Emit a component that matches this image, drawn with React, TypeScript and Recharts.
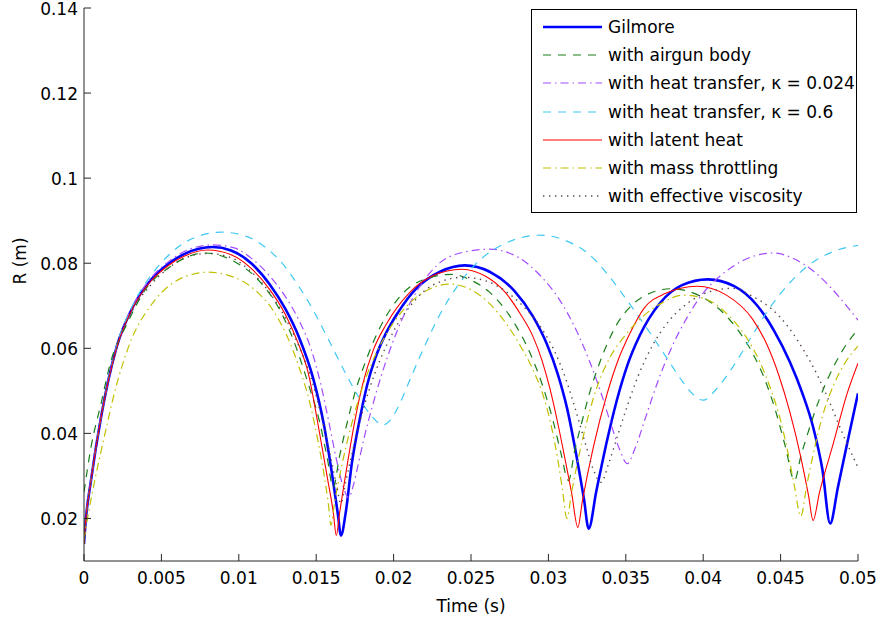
import React from "react";
import { LineChart, Line, XAxis, YAxis } from "recharts";

// [time (s), R (m)]
const gilmore: [number, number][] = [
  [0, 0.014], [0.0001, 0.019], [0.00045, 0.0289], [0.0011, 0.0438], [0.0021, 0.0602],
  [0.0032, 0.07], [0.0043, 0.076], [0.0055, 0.08], [0.0065, 0.0822], [0.0083, 0.0838],
  [0.0095, 0.083], [0.0108, 0.08], [0.012, 0.075], [0.013, 0.0693], [0.0139, 0.0625],
  [0.0148, 0.053], [0.0155, 0.042], [0.016, 0.031], [0.0164, 0.021], [0.0166, 0.016],
  [0.0169, 0.0212], [0.0173, 0.0329], [0.0178, 0.0431], [0.0183, 0.0515], [0.0188, 0.0575],
  [0.0195, 0.0635], [0.0203, 0.0685], [0.0215, 0.0742], [0.023, 0.078], [0.0246, 0.0795],
  [0.0262, 0.078], [0.0278, 0.0735], [0.029, 0.0675], [0.0299, 0.061], [0.0306, 0.054],
  [0.0312, 0.046], [0.0318, 0.035], [0.0323, 0.0245], [0.0326, 0.0176], [0.0331, 0.0265],
  [0.0338, 0.0385], [0.0344, 0.0475], [0.0351, 0.056], [0.0359, 0.063], [0.0372, 0.0706],
  [0.0386, 0.0748], [0.0403, 0.0762], [0.042, 0.0746], [0.0435, 0.07], [0.0446, 0.064],
  [0.0456, 0.0568], [0.0464, 0.0495], [0.0471, 0.0415], [0.0477, 0.0315], [0.0482, 0.0188],
  [0.0487, 0.0273], [0.0493, 0.0376], [0.05, 0.0494],
];

const airgunBody: [number, number][] = [
  [0, 0.0262], [0.00045, 0.0367], [0.0011, 0.047], [0.0017, 0.0565], [0.0028, 0.0659],
  [0.004, 0.074], [0.0055, 0.079], [0.0078, 0.0824], [0.0095, 0.0808], [0.0114, 0.0755],
  [0.0125, 0.07], [0.0135, 0.0622], [0.0145, 0.0515], [0.0152, 0.043], [0.0157, 0.0345],
  [0.0161, 0.0273], [0.0165, 0.0345], [0.017, 0.0425], [0.0175, 0.0495], [0.0182, 0.057],
  [0.019, 0.064], [0.0198, 0.0692], [0.0207, 0.0733], [0.022, 0.0762], [0.0238, 0.0774],
  [0.025, 0.076], [0.0262, 0.0732], [0.0277, 0.0665], [0.0288, 0.059], [0.0296, 0.0515],
  [0.0303, 0.043], [0.0308, 0.0355], [0.0313, 0.0289], [0.0317, 0.036], [0.0322, 0.0432],
  [0.0327, 0.05], [0.0333, 0.0565], [0.0344, 0.0655], [0.0355, 0.0705], [0.0366, 0.073],
  [0.0379, 0.074], [0.0395, 0.0728], [0.0411, 0.069], [0.0422, 0.0645], [0.0432, 0.0588],
  [0.044, 0.0525], [0.0447, 0.045], [0.0453, 0.037], [0.0459, 0.0289], [0.0463, 0.0345],
  [0.0468, 0.0405], [0.0475, 0.048], [0.0482, 0.054], [0.049, 0.0595], [0.05, 0.0645],
];

const heatTransferLow: [number, number][] = [
  [0, 0.014], [0.0001, 0.019], [0.00045, 0.029], [0.0011, 0.0438], [0.0021, 0.0602],
  [0.0032, 0.0702], [0.0043, 0.0764], [0.0055, 0.0805], [0.0065, 0.0828], [0.0083, 0.0843],
  [0.0097, 0.0836], [0.0108, 0.0812], [0.012, 0.077], [0.013, 0.0722], [0.0139, 0.0665],
  [0.0147, 0.0595], [0.0153, 0.0515], [0.0158, 0.043], [0.0163, 0.034], [0.0167, 0.028],
  [0.0171, 0.0249], [0.0174, 0.0278], [0.0177, 0.0325], [0.0181, 0.039], [0.0186, 0.046],
  [0.0192, 0.0535], [0.0199, 0.061], [0.0207, 0.068], [0.0216, 0.074], [0.0228, 0.0795],
  [0.0243, 0.0824], [0.0262, 0.0833], [0.028, 0.0815], [0.0295, 0.077], [0.0307, 0.0715],
  [0.0317, 0.065], [0.0326, 0.0575], [0.0334, 0.0495], [0.0341, 0.0415], [0.0346, 0.0362],
  [0.0351, 0.0329], [0.0356, 0.0365], [0.0363, 0.044], [0.0371, 0.0525], [0.038, 0.0605],
  [0.039, 0.0675], [0.04, 0.073], [0.0411, 0.077], [0.0425, 0.0805], [0.0445, 0.0824],
  [0.046, 0.0808], [0.0473, 0.0776], [0.0488, 0.072], [0.05, 0.0666],
];

const heatTransferHigh: [number, number][] = [
  [0, 0.014], [0.0001, 0.019], [0.00045, 0.029], [0.0011, 0.0438], [0.0021, 0.0604],
  [0.0032, 0.0705], [0.0043, 0.077], [0.0055, 0.082], [0.007, 0.0858], [0.0089, 0.0873],
  [0.0105, 0.0863], [0.0118, 0.0835], [0.0128, 0.08], [0.0138, 0.075], [0.0148, 0.069],
  [0.0158, 0.062], [0.0168, 0.0548], [0.0178, 0.0482], [0.0186, 0.044], [0.0193, 0.042],
  [0.0198, 0.0432], [0.0204, 0.047], [0.0211, 0.053], [0.022, 0.0605], [0.023, 0.068],
  [0.0242, 0.075], [0.0255, 0.0805], [0.027, 0.0843], [0.0295, 0.0866], [0.0312, 0.0852],
  [0.0325, 0.0825], [0.0338, 0.0775], [0.0351, 0.0712], [0.0364, 0.0645], [0.0376, 0.058],
  [0.0386, 0.0525], [0.0394, 0.049], [0.04, 0.0478], [0.0408, 0.0502], [0.0418, 0.055],
  [0.043, 0.062], [0.0442, 0.069], [0.0455, 0.075], [0.0468, 0.0795], [0.0483, 0.0826],
  [0.05, 0.0842],
];

const latentHeat: [number, number][] = [
  [0, 0.014], [0.0001, 0.019], [0.00045, 0.0289], [0.0011, 0.0438], [0.0021, 0.06],
  [0.0032, 0.0698], [0.0043, 0.0757], [0.0055, 0.0796], [0.0065, 0.0817], [0.008, 0.0831],
  [0.0095, 0.082], [0.0108, 0.0788], [0.012, 0.0738], [0.013, 0.068], [0.0138, 0.0615],
  [0.0145, 0.054], [0.0151, 0.0425], [0.0157, 0.03], [0.0161, 0.0215], [0.0163, 0.016],
  [0.0165, 0.021], [0.017, 0.0325], [0.0175, 0.043], [0.018, 0.0515], [0.0187, 0.0597],
  [0.0195, 0.0655], [0.021, 0.073], [0.0225, 0.077], [0.0244, 0.0786], [0.026, 0.0768],
  [0.0272, 0.0732], [0.0282, 0.068], [0.029, 0.0628], [0.0296, 0.057], [0.0301, 0.0505],
  [0.0306, 0.0425], [0.0311, 0.0335], [0.0315, 0.026], [0.0319, 0.0179], [0.0322, 0.0242],
  [0.0329, 0.0367], [0.0338, 0.0494], [0.0345, 0.0572], [0.0352, 0.063], [0.0362, 0.0695],
  [0.0375, 0.0728], [0.0396, 0.0746], [0.0415, 0.0725], [0.0432, 0.0668], [0.0441, 0.061],
  [0.0449, 0.0535], [0.0456, 0.045], [0.0463, 0.0345], [0.0468, 0.0255], [0.0471, 0.0195],
  [0.0475, 0.0259], [0.0484, 0.0376], [0.0493, 0.0494], [0.05, 0.0565],
];

const massThrottling: [number, number][] = [
  [0, 0.015], [0.0003, 0.0215], [0.0007, 0.029], [0.0013, 0.039], [0.002, 0.05],
  [0.003, 0.0615], [0.0043, 0.07], [0.0056, 0.075], [0.0068, 0.0772], [0.008, 0.0779],
  [0.0097, 0.0767], [0.0112, 0.0732], [0.0122, 0.069], [0.0131, 0.063], [0.0139, 0.0555],
  [0.0146, 0.047], [0.0151, 0.0385], [0.0155, 0.0305], [0.0158, 0.023], [0.01595, 0.0184],
  [0.0162, 0.024], [0.0166, 0.0315], [0.017, 0.038], [0.0175, 0.045], [0.0181, 0.052],
  [0.0189, 0.059], [0.0199, 0.0655], [0.021, 0.0705], [0.0222, 0.0737], [0.0236, 0.0751],
  [0.025, 0.0738], [0.0262, 0.0705], [0.0272, 0.0662], [0.0282, 0.0605], [0.029, 0.055],
  [0.0297, 0.0485], [0.0302, 0.0415], [0.0306, 0.034], [0.0309, 0.027], [0.0312, 0.02],
  [0.0315, 0.0262], [0.0319, 0.0335], [0.0325, 0.043], [0.0332, 0.0515], [0.034, 0.058],
  [0.035, 0.0632], [0.0362, 0.0678], [0.0374, 0.0708], [0.0387, 0.0725], [0.04, 0.0718],
  [0.0415, 0.0682], [0.0428, 0.0625], [0.0437, 0.0565], [0.0444, 0.05], [0.045, 0.043],
  [0.0455, 0.035], [0.0459, 0.0275], [0.0463, 0.0205], [0.0467, 0.028], [0.0471, 0.035],
  [0.0477, 0.044], [0.0485, 0.052], [0.0492, 0.0568], [0.05, 0.0605],
];

const effectiveViscosity: [number, number][] = [
  [0, 0.014], [0.0001, 0.019], [0.00045, 0.0289], [0.0011, 0.0438], [0.0021, 0.06],
  [0.0032, 0.0694], [0.0043, 0.0748], [0.0055, 0.079], [0.0065, 0.0812], [0.008, 0.0823],
  [0.0095, 0.0813], [0.0108, 0.078], [0.012, 0.073], [0.0131, 0.0665], [0.014, 0.0595],
  [0.0148, 0.0515], [0.0154, 0.043], [0.0159, 0.035], [0.0163, 0.028], [0.0166, 0.0235],
  [0.0169, 0.0285], [0.0173, 0.035], [0.0178, 0.0425], [0.0184, 0.05], [0.0191, 0.057],
  [0.02, 0.064], [0.0212, 0.0705], [0.0226, 0.075], [0.0245, 0.0767], [0.026, 0.0758],
  [0.0272, 0.0735], [0.0284, 0.0698], [0.0295, 0.065], [0.0305, 0.0585], [0.0312, 0.052],
  [0.0318, 0.045], [0.0324, 0.0375], [0.0329, 0.0315], [0.0334, 0.0285], [0.0339, 0.033],
  [0.0345, 0.0398], [0.0351, 0.0465], [0.0358, 0.0535], [0.0367, 0.0605], [0.0378, 0.0665],
  [0.039, 0.0706], [0.0404, 0.0733], [0.0419, 0.0741], [0.0432, 0.0722], [0.0445, 0.069],
  [0.0456, 0.0645], [0.0465, 0.0595], [0.0474, 0.0535], [0.0482, 0.047], [0.049, 0.04],
  [0.05, 0.032],
];

const xTicks = [0, 0.005, 0.01, 0.015, 0.02, 0.025, 0.03, 0.035, 0.04, 0.045, 0.05];
const yTicks = [0.02, 0.04, 0.06, 0.08, 0.1, 0.12, 0.14];

const FONT = "'DejaVu Sans', sans-serif";
const AXIS = "#262626";

const SERIES = [
  { name: "Gilmore", data: gilmore, color: "#0000ff", width: 2.6, dash: undefined },
  { name: "with airgun body", data: airgunBody, color: "#1a7f1a", width: 1.2, dash: "8 7" },
  { name: "with heat transfer, \u03ba = 0.024", data: heatTransferLow, color: "#a44dff", width: 1.2, dash: "8 4 1.5 4" },
  { name: "with heat transfer, \u03ba = 0.6", data: heatTransferHigh, color: "#3fc8f2", width: 1.2, dash: "8 7" },
  { name: "with latent heat", data: latentHeat, color: "#ff0000", width: 1.1, dash: undefined },
  { name: "with mass throttling", data: massThrottling, color: "#c0c000", width: 1.2, dash: "8 4 1.5 4" },
  { name: "with effective viscosity", data: effectiveViscosity, color: "#5a4646", width: 1.4, dash: "1.4 4.6" },
];

const fmt = (v: number) => String(Number(v.toFixed(3)));

// MATLAB-style ticks pointing into the axes
const YTick = ({ x, y, payload }: any) => (
  <g>
    <line x1={x + 6} x2={x + 13} y1={y} y2={y} stroke={AXIS} />
    <text x={x} y={y + 1} textAnchor="end" dominantBaseline="central" fontSize={17} fontFamily={FONT} fill="#000">
      {fmt(payload.value)}
    </text>
  </g>
);

const XTick = ({ x, y, payload }: any) => (
  <g>
    <line x1={x} x2={x} y1={y - 9} y2={y - 16} stroke={AXIS} />
    <text x={x} y={y + 8} textAnchor="middle" dominantBaseline="central" fontSize={17} fontFamily={FONT} fill="#000">
      {fmt(payload.value)}
    </text>
  </g>
);

function LegendBox() {
  return (
    <div style={{
      position: "absolute", left: 531, top: 9, width: 324, height: 202,
      border: "1px solid #000", background: "#fff", fontFamily: FONT, fontSize: 17,
    }}>
      {SERIES.map((s, i) => (
        <div key={s.name} style={{ position: "absolute", left: 0, top: 4 + i * 28.2, height: 26, display: "flex", alignItems: "center" }}>
          <svg width={70} height={26}>
            <line x1={11} x2={70} y1={13} y2={13} stroke={s.color}
                  strokeWidth={s.width} strokeDasharray={s.dash} />
          </svg>
          <span style={{ marginLeft: 6, whiteSpace: "nowrap", color: "#000" }}>{s.name}</span>
        </div>
      ))}
    </div>
  );
}

export default function App() {
  return (
    <div style={{ position: "absolute", left: 0, top: 0, width: 880, height: 622, background: "#fff" }}>
      <LineChart width={880} height={622} margin={{ top: 8, right: 22, bottom: 0, left: 0 }}>
        <XAxis dataKey="t" type="number" domain={[0, 0.05]} ticks={xTicks} interval={0}
               allowDataOverflow stroke={AXIS} tickLine={false} tickSize={0} tickMargin={9}
               tick={<XTick />} height={61}
               label={{ value: "Time (s)", position: "insideBottom", offset: 10, fontSize: 17, fontFamily: FONT, fill: "#000" }} />
        <YAxis type="number" domain={[0.01, 0.14]} ticks={yTicks} interval={0}
               allowDataOverflow stroke={AXIS} tickLine={false} tickSize={0} tickMargin={6}
               tick={<YTick />} width={84}
               label={{ value: "R (m)", angle: -90, position: "insideLeft", offset: 20, fontSize: 17, fontFamily: FONT, fill: "#000" }} />
        {SERIES.map((s) => (
          <Line key={s.name} name={s.name} type="monotone"
                data={s.data.map(([t, r]) => ({ t, r }))} dataKey="r"
                stroke={s.color} strokeWidth={s.width} strokeDasharray={s.dash}
                dot={false} activeDot={false} isAnimationActive={false} />
        ))}
      </LineChart>
      <LegendBox />
    </div>
  );
}
